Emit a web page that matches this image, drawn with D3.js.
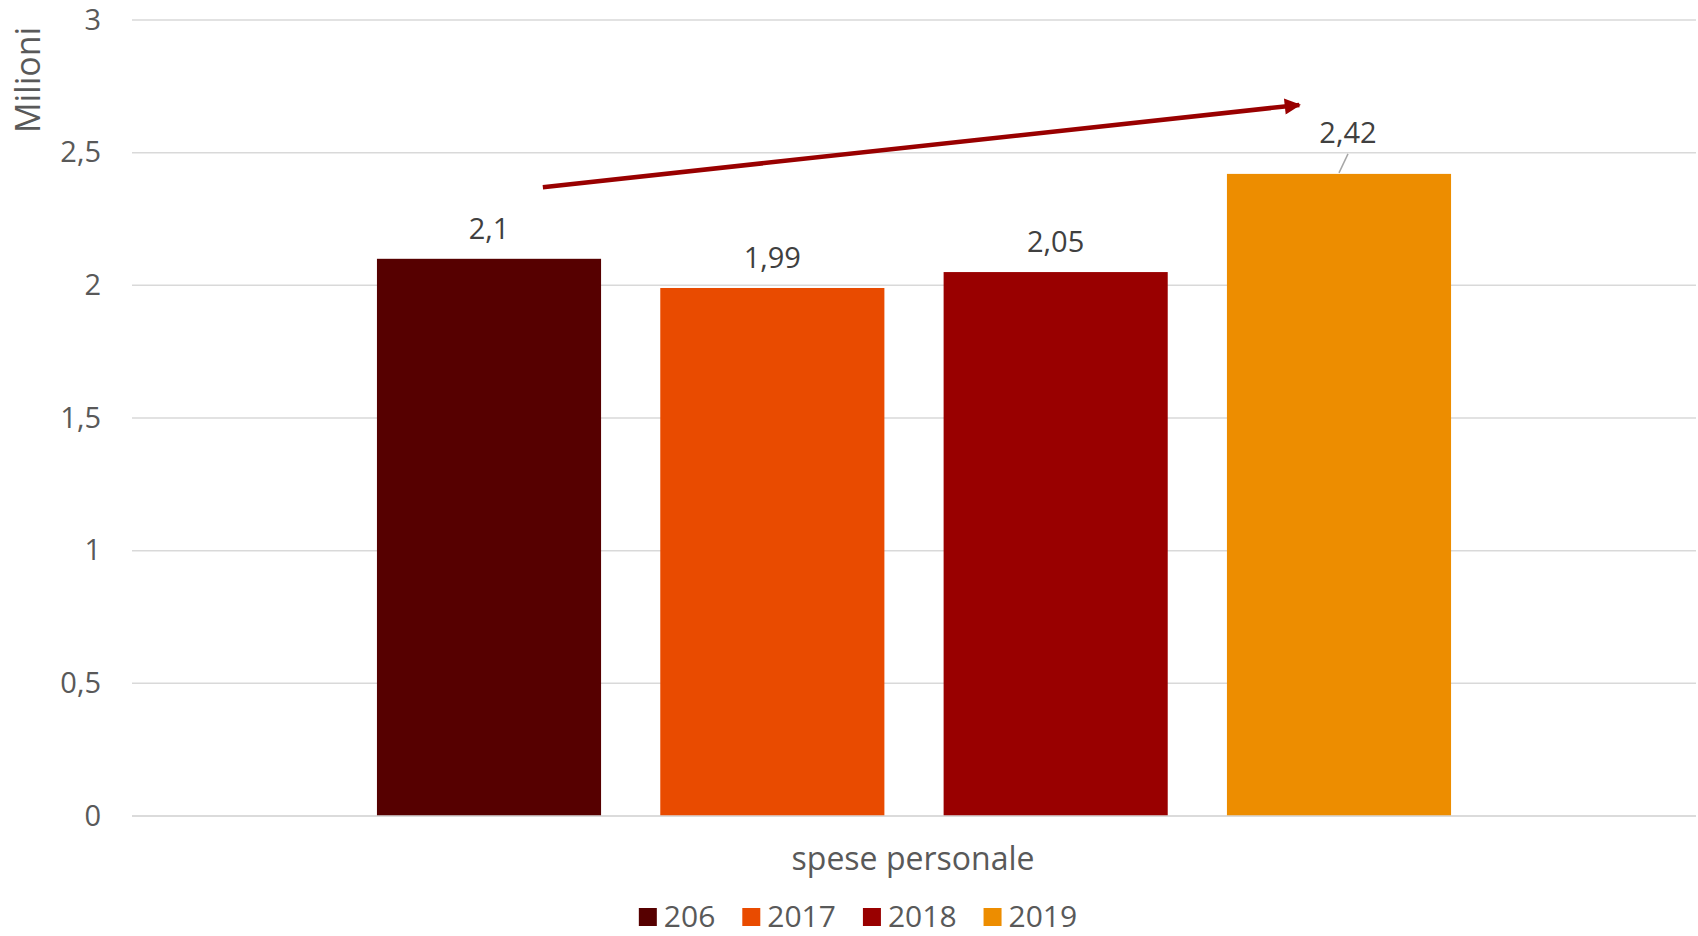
<!DOCTYPE html>
<html>
<head>
<meta charset="utf-8">
<script src="https://cdn.jsdelivr.net/npm/d3@7"></script>
<style>
  html, body { margin: 0; padding: 0; background: #fff; }
  svg { display: block; font-family: "Century Gothic", "Open Sans", sans-serif; }
</style>
</head>
<body>
<svg id="chart" width="1698" height="936"></svg>
<script>
// ---- data ----
const categories = ["spese personale"];
const seriesNames = ["206", "2017", "2018", "2019"];
const seriesValues = [2.1, 1.99, 2.05, 2.42];
const valueLabels = ["2,1", "1,99", "2,05", "2,42"];
const seriesColors = ["#560000", "#E94B00", "#990000", "#ED8D00"];
const yTicks = [0, 0.5, 1, 1.5, 2, 2.5, 3];
const yTickLabels = ["0", "0,5", "1", "1,5", "2", "2,5", "3"];
const axisTitle = "Milioni";
// trend arrow annotation: [series position, value]
const arrowStart = [0.19, 2.37];
const arrowEnd = [2.86, 2.68];

// ---- layout ----
const plot = { left: 132, right: 1696, top: 20, bottom: 816 };

const svg = d3.select("#chart");

const y = d3.scaleLinear().domain([0, 3]).range([plot.bottom, plot.top]);
const x0 = d3.scaleBand().domain(categories).range([plot.left, plot.right]).paddingInner(0.1857).paddingOuter(0.1857);
const x1 = d3.scaleBand().domain(seriesNames).range([0, x0.bandwidth()]).paddingInner(0.209).paddingOuter(0);
const xPos = d3.scaleLinear().domain([0, 1]).range([
  x0(categories[0]) + x1(seriesNames[0]) + x1.bandwidth() / 2,
  x0(categories[0]) + x1(seriesNames[1]) + x1.bandwidth() / 2
]);

// gridlines
svg.append("g").selectAll("line").data(yTicks).join("line")
  .attr("x1", plot.left).attr("x2", plot.right)
  .attr("y1", d => y(d)).attr("y2", d => y(d))
  .attr("stroke", "#D9D9D9").attr("stroke-width", 1.5);

// y axis labels via d3 axis
const yAxis = d3.axisLeft(y).tickValues(yTicks).tickFormat((d, i) => yTickLabels[i]).tickSize(0).tickPadding(0);
const yg = svg.append("g").attr("transform", `translate(${plot.left - 31},0)`).call(yAxis);
yg.select(".domain").remove();
yg.selectAll("text").attr("fill", "#595959").attr("font-size", 29).attr("font-family", "'Century Gothic','Open Sans',sans-serif");

// axis title
svg.append("text")
  .attr("transform", `translate(40,80) rotate(-90)`)
  .attr("text-anchor", "middle")
  .attr("fill", "#595959").attr("font-size", 34)
  .text(axisTitle);

// bars
const bars = seriesNames.map((s, i) => ({ name: s, value: seriesValues[i], label: valueLabels[i], color: seriesColors[i], cat: categories[0] }));
svg.append("g").selectAll("rect").data(bars).join("rect")
  .attr("x", d => x0(d.cat) + x1(d.name))
  .attr("width", x1.bandwidth())
  .attr("y", d => y(d.value))
  .attr("height", d => y(0) - y(d.value))
  .attr("fill", d => d.color);

// baseline
svg.append("line").attr("x1", plot.left).attr("x2", plot.right)
  .attr("y1", y(0)).attr("y2", y(0)).attr("stroke", "#D9D9D9").attr("stroke-width", 1.5);

// value labels
svg.append("g").selectAll("text").data(bars).join("text")
  .attr("x", (d, i) => x0(d.cat) + x1(d.name) + x1.bandwidth() / 2 + (i === 3 ? 9 : 0))
  .attr("y", (d, i) => y(d.value) - (i === 3 ? 31 : 20))
  .attr("text-anchor", "middle")
  .attr("fill", "#404040").attr("font-size", 29)
  .text(d => d.label);

// leader line for last label
const last = bars[3];
svg.append("line")
  .attr("x1", x0(last.cat) + x1(last.name) + x1.bandwidth() / 2)
  .attr("y1", y(last.value) - 1)
  .attr("x2", x0(last.cat) + x1(last.name) + x1.bandwidth() / 2 + 9)
  .attr("y2", y(last.value) - 20)
  .attr("stroke", "#A6A6A6").attr("stroke-width", 1.5);

// trend arrow
const defs = svg.append("defs");
defs.append("marker").attr("id", "ah")
  .attr("viewBox", "0 0 10 10").attr("refX", 9).attr("refY", 5)
  .attr("markerWidth", 4).attr("markerHeight", 3.6)
  .attr("markerUnits", "strokeWidth").attr("orient", "auto")
  .append("path").attr("d", "M0,0 L10,5 L0,10 Z").attr("fill", "#990000");
svg.append("line")
  .attr("x1", xPos(arrowStart[0])).attr("y1", y(arrowStart[1]))
  .attr("x2", xPos(arrowEnd[0])).attr("y2", y(arrowEnd[1]))
  .attr("stroke", "#990000").attr("stroke-width", 4.5)
  .attr("marker-end", "url(#ah)");

// category label
svg.append("g").selectAll("text").data(categories).join("text")
  .attr("x", d => x0(d) + x0.bandwidth() / 2 - 1)
  .attr("y", 870)
  .attr("text-anchor", "middle")
  .attr("fill", "#595959").attr("font-size", 32)
  .text(d => d);

// legend
const lg = svg.append("g");
const items = lg.selectAll("g").data(bars).join("g");
items.append("rect").attr("width", 18).attr("height", 18).attr("y", -9).attr("fill", d => d.color);
items.append("text").attr("x", 25).attr("y", 10).attr("fill", "#595959").attr("font-size", 30).text(d => d.name);
let cx = 0;
items.each(function () {
  const g = d3.select(this);
  g.attr("transform", `translate(${cx},0)`);
  cx += 25 + g.select("text").node().getComputedTextLength() + 27;
});
const legendW = cx - 27;
lg.attr("transform", `translate(${858 - legendW / 2},917)`);
</script>
</body>
</html>
